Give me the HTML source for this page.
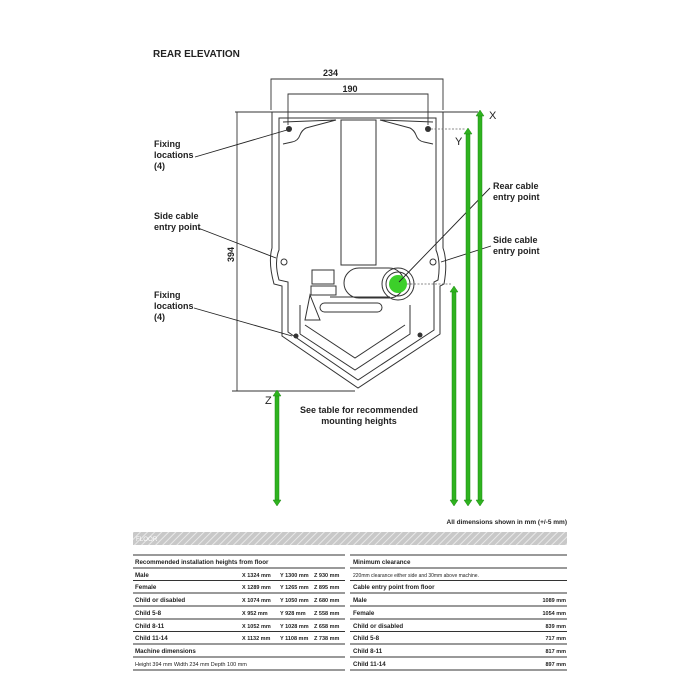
<!DOCTYPE html>
<html><head><meta charset="utf-8"><style>
body{margin:0;background:#fff}
svg{display:block}
text{font-family:"Liberation Sans",sans-serif;font-weight:bold;fill:#222}
.t{font-size:6.2px}
.s{font-size:5.5px}
.l{font-size:9px}
</style></head><body>
<svg width="700" height="700" viewBox="0 0 700 700" xmlns="http://www.w3.org/2000/svg">
<defs>
<pattern id="h" width="5" height="5" patternUnits="userSpaceOnUse" patternTransform="rotate(45)">
<rect width="5" height="5" fill="#c8c8c8"/><line x1="0" y1="0" x2="0" y2="5" stroke="#e8e8e8" stroke-width="2"/>
</pattern>
</defs>
<text x="153" y="57" class="l" style="font-size:10px">REAR ELEVATION</text>

<g stroke="#333" stroke-width="0.9" fill="none">
<path d="M271 110 V79 H443 V110"/>
<path d="M288 125 V94 H428 V125"/>
<path d="M235 112 H272"/>
<path d="M237 112 V391"/>
<path d="M232 391 H355"/>
<path d="M443 112 H478"/>
</g>
<text x="323" y="76" class="l">234</text>
<text x="350" y="92" class="l" text-anchor="middle">190</text>
<text transform="translate(234,262) rotate(-90)" class="l">394</text>
<text x="489" y="119" class="l" style="font-size:11px;font-weight:normal">X</text>
<text x="455" y="145" class="l" style="font-size:11px;font-weight:normal">Y</text>
<text x="265" y="404" class="l" style="font-size:11px;font-weight:normal">Z</text>

<g stroke="#333" stroke-width="1" fill="none">
<path d="M272 112 H443 V248 Q448 262 444 284 L440 286 V334 L358 388 L282 336 V286 L274 284 Q268 262 272 248 Z"/>
<path d="M279 118 H436 V250 Q441 262 438 280 L434 282 V330 L358 380 L288 332 V282 L279 280 Q274 262 279 250 Z"/>
<path d="M283 122 L336 120 L306 128 Q302 130 300 135 Q298 141 292 142 L283 144"/>
<path d="M433 122 L380 120 L410 128 Q414 130 416 135 Q418 141 424 142 L433 144"/>
<rect x="341" y="120" width="35" height="145"/>
<path d="M300 334 V305 M300 334 L355 370 L410 334 V305" />
<path d="M305 325 L355 358 L405 325"/>
<rect x="344" y="268" width="60" height="30" rx="15"/>
<circle cx="398" cy="284" r="16"/>
<circle cx="398" cy="284" r="12"/>
<rect x="320" y="303" width="62" height="9" rx="4.5"/>
<path d="M330 297 H390"/>
<path d="M310 295 L305 320 L320 320 Z"/>
<rect x="312" y="270" width="22" height="14"/>
<rect x="311" y="286" width="25" height="9"/>
<circle cx="284" cy="262" r="3"/>
<circle cx="433" cy="262" r="3"/>
</g>
<circle cx="289" cy="129" r="3" fill="#333"/>
<circle cx="428" cy="129" r="3" fill="#333"/>
<circle cx="296" cy="336" r="2.5" fill="#333"/>
<circle cx="420" cy="335" r="2.5" fill="#333"/>
<circle cx="398" cy="284" r="9" fill="#3ccf2a"/>
<g stroke="#666" stroke-width="0.8" stroke-dasharray="2,1.5">
<path d="M431 129 H466"/><path d="M407 284 H452"/>
</g>

<g stroke="#222" stroke-width="0.9" fill="none">
<path d="M195 157 L287 130"/>
<path d="M198 228 L276 258"/>
<path d="M194 308 L292 336"/>
<path d="M399 282 L490 188"/>
<path d="M441 262 L491 246"/>
</g>
<text class="l"><tspan x="154" y="147">Fixing</tspan><tspan x="154" y="158">locations</tspan><tspan x="154" y="169">(4)</tspan></text>
<text class="l"><tspan x="154" y="219">Side cable</tspan><tspan x="154" y="230">entry point</tspan></text>
<text class="l"><tspan x="154" y="298">Fixing</tspan><tspan x="154" y="309">locations</tspan><tspan x="154" y="320">(4)</tspan></text>
<text class="l"><tspan x="493" y="189">Rear cable</tspan><tspan x="493" y="200">entry point</tspan></text>
<text class="l"><tspan x="493" y="243">Side cable</tspan><tspan x="493" y="254">entry point</tspan></text>
<text class="l" text-anchor="middle"><tspan x="359" y="413">See table for recommended</tspan><tspan x="359" y="424">mounting heights</tspan></text>

<g fill="#2fb31f" stroke="#1e8a14" stroke-width="0.5">
<rect x="478" y="114" width="4" height="388"/><path d="M476 116 L480 110 L484 116 Z M476 500 L480 506 L484 500 Z"/>
<rect x="466" y="132" width="4" height="370"/><path d="M464 134 L468 128 L472 134 Z M464 500 L468 506 L472 500 Z"/>
<rect x="452" y="290" width="4" height="212"/><path d="M450 292 L454 286 L458 292 Z M450 500 L454 506 L458 500 Z"/>
<rect x="275" y="394" width="4" height="108"/><path d="M273 396 L277 390 L281 396 Z M273 500 L277 506 L281 500 Z"/>
</g>

<text x="567" y="524" class="t" text-anchor="end" style="font-size:6.5px">All dimensions shown in mm (+/-5 mm)</text>
<rect x="133" y="532" width="434" height="13" fill="url(#h)"/>
<text x="136" y="541" class="t" style="fill:#fff;font-weight:normal">FLOOR</text>

<g stroke="#333" stroke-width="0.9">
<path d="M133 555 H345 M133 568 H345 M133 580.5 H345 M133 593 H345 M133 606 H345 M133 619 H345 M133 631.5 H345 M133 644 H345 M133 657 H345 M133 670 H345"/>
<path d="M350 555 H567 M350 568 H567 M350 580.5 H567 M350 593 H567 M350 606 H567 M350 619 H567 M350 631.5 H567 M350 644 H567 M350 657 H567 M350 670 H567"/>
</g>
<text x="135" y="564" class="t">Recommended installation heights from floor</text>
<text x="135" y="577" class="t">Male</text>
<text x="135" y="589" class="t">Female</text>
<text x="135" y="602" class="t">Child or disabled</text>
<text x="135" y="615" class="t">Child 5-8</text>
<text x="135" y="628" class="t">Child 8-11</text>
<text x="135" y="640" class="t">Child 11-14</text>
<text x="135" y="653" class="t">Machine dimensions</text>
<text x="135" y="666" class="s" style="font-weight:normal">Height 394 mm  Width 234 mm  Depth 100 mm</text>

<g class="s">
<text x="242" y="577" class="s">X  1324 mm</text><text x="280" y="577" class="s">Y  1300 mm</text><text x="314" y="577" class="s">Z  930 mm</text>
<text x="242" y="589" class="s">X  1289 mm</text><text x="280" y="589" class="s">Y  1265 mm</text><text x="314" y="589" class="s">Z  895 mm</text>
<text x="242" y="602" class="s">X  1074 mm</text><text x="280" y="602" class="s">Y  1050 mm</text><text x="314" y="602" class="s">Z  680 mm</text>
<text x="242" y="615" class="s">X  952 mm</text><text x="280" y="615" class="s">Y  928 mm</text><text x="314" y="615" class="s">Z  558 mm</text>
<text x="242" y="628" class="s">X  1052 mm</text><text x="280" y="628" class="s">Y  1028 mm</text><text x="314" y="628" class="s">Z  658 mm</text>
<text x="242" y="640" class="s">X  1132 mm</text><text x="280" y="640" class="s">Y  1108 mm</text><text x="314" y="640" class="s">Z  738 mm</text>
</g>
<text x="353" y="564" class="t">Minimum clearance</text>
<text x="353" y="577" class="t" style="font-size:5px;font-weight:normal">220mm clearance either side and 30mm above machine.</text>
<text x="353" y="589" class="t">Cable entry point from floor</text>
<text x="353" y="602" class="t">Male</text>
<text x="353" y="615" class="t">Female</text>
<text x="353" y="628" class="t">Child or disabled</text>
<text x="353" y="640" class="t">Child 5-8</text>
<text x="353" y="653" class="t">Child 8-11</text>
<text x="353" y="666" class="t">Child 11-14</text>
<g text-anchor="end">
<text x="566" y="602" class="s">1089 mm</text>
<text x="566" y="615" class="s">1054 mm</text>
<text x="566" y="628" class="s">839 mm</text>
<text x="566" y="640" class="s">717 mm</text>
<text x="566" y="653" class="s">817 mm</text>
<text x="566" y="666" class="s">897 mm</text>
</g>
</svg>
</body></html>
